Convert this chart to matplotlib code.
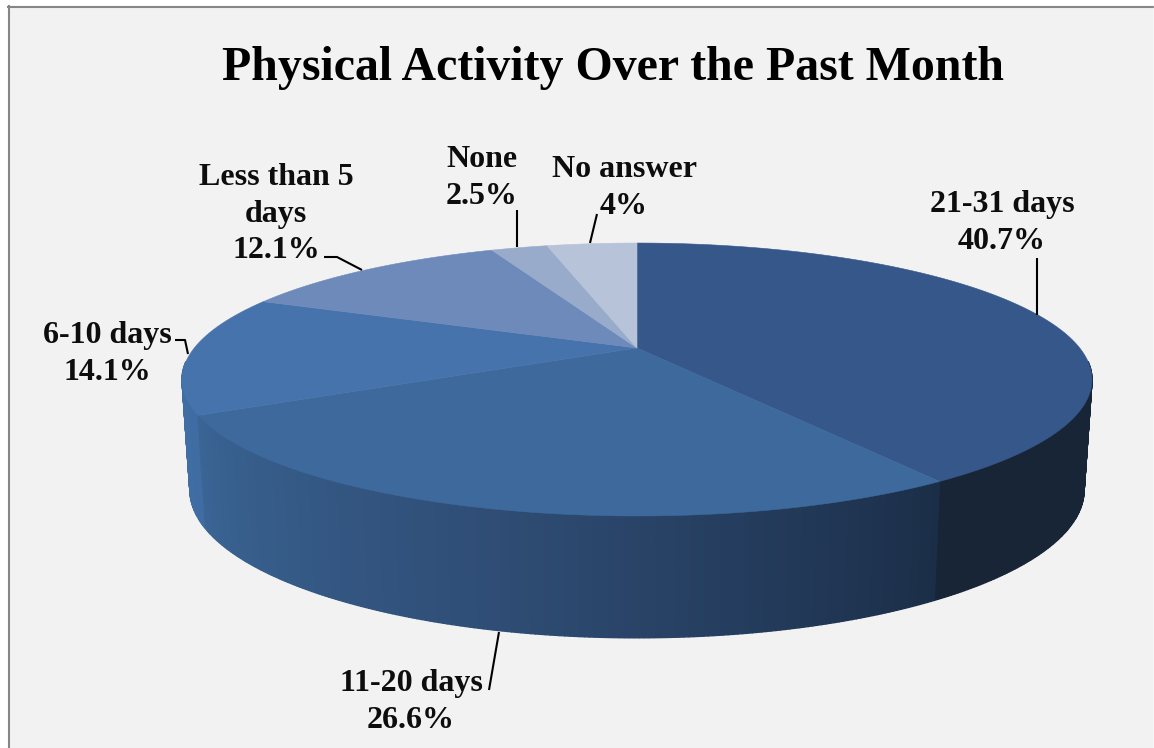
import numpy as np
import matplotlib
matplotlib.use("Agg")
import matplotlib.pyplot as plt
from matplotlib.patches import Polygon, Rectangle
from matplotlib.colors import LinearSegmentedColormap

title = "Physical Activity Over the Past Month"
categories = ["21-31 days", "11-20 days", "6-10 days", "Less than 5\ndays", "None", "No answer"]
values = [40.7, 26.6, 14.1, 12.1, 2.5, 4.0]
value_labels = ["40.7%", "26.6%", "14.1%", "12.1%", "2.5%", "4%"]

top_colors = ["#35578A", "#3D699C", "#4673AC", "#6E8ABB", "#98ABCB", "#B7C3D9"]
side_colors = [
    ["#1B2C44", "#182536", "#182536"],
    ["#1B2E48", "#2F4D75", "#3A6595"],
    ["#3F6CA2", "#4270A6", "#4270A6"],
    ["#6E8ABB", "#6E8ABB"],
    ["#98ABCB", "#98ABCB"],
    ["#B7C3D9", "#B7C3D9"],
]

label_pos = [(1002, 223), (411, 702), (107, 354), (276, 214), (482, 178), (624, 188)]
leaders = [
    [(1037, 258), (1037, 315)],
    [(489, 690), (499, 632)],
    [(175, 340), (185, 340), (188, 354)],
    [(324, 257), (337, 257), (362, 270)],
    [(517, 210), (517, 247)],
    [(597, 214), (590, 243)],
]

# perspective of the pie: (centre x, apex y, A, B), same tilt for both planes
tilt = 0.2308
top_plane = (637, 348, 442.7, 129.2)
bottom_plane = (637, 455.8, 435, 140)


def project(theta, plane):
    cx, cy, a, b = plane
    u = np.sin(theta)
    v = np.cos(theta)
    w = 1 + tilt * v
    return np.column_stack([cx + a * u / w, cy - b * v / w])


fig = plt.figure(figsize=(11.54, 7.48), dpi=100, facecolor="white")
ax = fig.add_axes([0, 0, 1, 1])
ax.set_xlim(0, 1154)
ax.set_ylim(748, 0)
ax.axis("off")

ax.add_patch(Rectangle((8.5, 6.5), 1144, 760, facecolor="#F2F2F2", edgecolor="none", zorder=0))
ax.plot([8.5, 8.5], [6, 748], color="#868686", lw=1.5, zorder=1)
ax.plot([8, 1154], [6.5, 6.5], color="#868686", lw=1.5, zorder=1)
ax.plot([1153.5, 1153.5], [6, 748], color="#D9D9D9", lw=1, zorder=1)

edges = np.radians(np.cumsum([0] + values) * 3.6)

# side walls, cut into thin strips so the shading can run along them
strips = []
for i in range(len(values)):
    cmap = LinearSegmentedColormap.from_list("side", side_colors[i])
    n = max(int(np.degrees(edges[i + 1] - edges[i])), 2) * 2
    t = np.linspace(edges[i], edges[i + 1], n + 1)
    upper = project(t, top_plane)
    lower = project(t, bottom_plane)
    for j in range(n):
        quad = [upper[j], upper[j + 1], lower[j + 1], lower[j]]
        strips.append((np.cos((t[j] + t[j + 1]) / 2), quad, cmap((j + 0.5) / n)))

# far strips first, near ones paint over them; the back of the wall is never seen
strips.sort(key=lambda s: -s[0])
for depth, quad, c in strips:
    if depth > -0.1:
        continue
    ax.add_patch(Polygon(quad, closed=True, facecolor=c, edgecolor=c, lw=1.0, zorder=2))

# top faces
for i in range(len(values)):
    t = np.linspace(edges[i], edges[i + 1], 200)
    rim = project(t, top_plane)
    pts = np.vstack([[top_plane[0], top_plane[1]], rim])
    ax.add_patch(Polygon(pts, closed=True, facecolor=top_colors[i], edgecolor=top_colors[i],
                         lw=0.4, zorder=3))

for line in leaders:
    xs, ys = zip(*line)
    ax.plot(xs, ys, color="black", lw=1.5, zorder=4, solid_capstyle="butt")

for i, name in enumerate(categories):
    ax.text(label_pos[i][0], label_pos[i][1], name + "\n" + value_labels[i], ha="center", va="center",
            family="Liberation Serif", weight="bold", fontsize=23, linespacing=1.36, color="#0D0D0D", zorder=5)

ax.text(613, 68, title, ha="center", va="center", family="Liberation Serif", weight="bold",
        fontsize=34.5, color="black", zorder=5)

fig.savefig("out.png", dpi=100, facecolor="white")
